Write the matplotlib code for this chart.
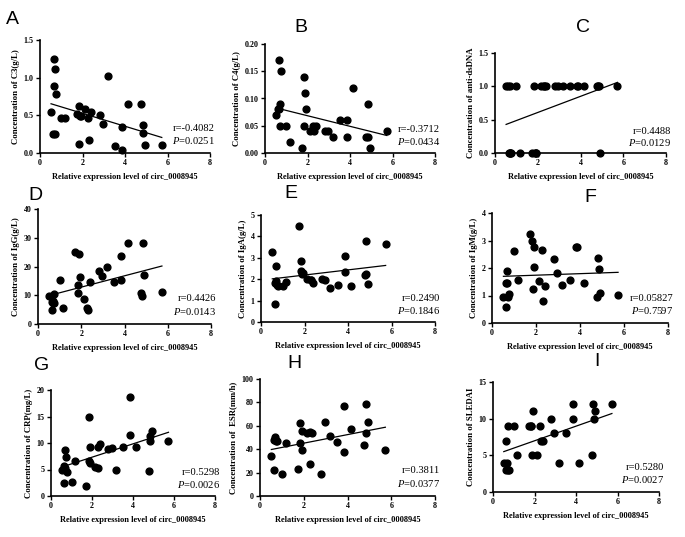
import numpy as np
import matplotlib
matplotlib.use("Agg")
import matplotlib.pyplot as plt

# wspolne x dla wszystkich paneli (ta sama grupa pacjentow)
circ = [0.52, 0.63, 0.65, 0.68, 0.70, 0.72, 0.76, 1.00, 1.17, 1.73,
        1.83, 1.85, 1.90, 1.92, 2.13, 2.28, 2.30, 2.39, 2.80, 2.96,
        3.18, 3.53, 3.84, 3.86, 4.16, 4.76, 4.83, 4.85, 4.92, 5.73]

c3 = [0.54, 0.25, 1.25, 0.89, 0.25, 1.12, 0.78, 0.47, 0.47, 0.52,
      0.12, 0.62, 0.49, 0.49, 0.59, 0.46, 0.17, 0.55, 0.51, 0.38,
      1.02, 0.09, 0.35, 0.035, 0.65, 0.65, 0.37, 0.26, 0.10, 0.10]
c4 = [0.07, 0.08, 0.17, 0.08, 0.05, 0.09, 0.15, 0.05, 0.02, 0.01,
      0.14, 0.05, 0.11, 0.08, 0.04, 0.05, 0.04, 0.05, 0.04, 0.04,
      0.03, 0.06, 0.06, 0.03, 0.12, 0.03, 0.09, 0.03, 0.01, 0.04]
dsdna = [1, 1, 0, 1, 0, 0, 0, 1, 0, 0,
         1, 0, 0, 0, 1, 1, 1, 1, 1, 1,
         1, 1, 1, 1, 1, 1, 1, 1, 0, 1]
igg = [9.8, 7.8, 4.8, 7.3, 8.0, 10.6, 7.2, 15.2, 5.6, 25.0,
       13.7, 10.7, 24.4, 16.3, 8.8, 5.5, 4.8, 14.5, 18.3, 16.6,
       19.7, 14.7, 23.5, 15.2, 28.3, 10.7, 9.8, 28.3, 17.1, 11.2]
iga = [3.25, 1.82, 0.84, 1.93, 2.64, 1.75, 1.70, 1.70, 1.88, 4.47,
       2.84, 2.38, 2.25, 2.30, 2.00, 1.98, 1.96, 1.83, 2.00, 1.96,
       1.58, 1.75, 3.09, 2.34, 1.68, 2.20, 3.79, 2.22, 1.79, 3.66]
igm = [0.94, 1.47, 0.59, 1.45, 1.90, 0.96, 1.04, 2.61, 1.58, 3.22,
       3.00, 1.23, 2.76, 2.05, 1.51, 2.66, 0.81, 1.34, 2.34, 1.83,
       1.37, 1.55, 2.77, 2.75, 1.46, 0.93, 2.37, 1.95, 1.10, 1.02]
crp = [5.0, 5.7, 2.5, 8.6, 5.3, 7.4, 4.5, 2.6, 6.6, 1.8,
       15.0, 6.6, 9.2, 6.3, 5.5, 9.3, 5.3, 9.9, 8.9, 9.1,
       4.9, 9.3, 18.7, 11.6, 9.3, 4.7, 11.4, 10.3, 12.3, 10.4]
esr = [34, 47.7, 22, 50.6, 49, 47, 46.9, 18.9, 44.9, 22.9,
       62, 44.9, 55.7, 39.7, 54, 54.9, 27.7, 54, 18.9, 62.9,
       51.7, 46, 77.1, 38, 56.9, 44, 78.9, 54, 62.9, 39.7]
sledai = [4, 3, 7, 4, 9, 3, 3, 9, 5, 9,
          9, 9, 5, 11, 5, 9, 7, 7, 10, 8,
          4, 8, 12, 10, 4, 5, 12, 10, 11, 12]

letters = ["A", "B", "C", "D", "E", "F", "G", "H", "I"]
ylabels = ["Concentration of C3(g/L)", "Concentration of C4(g/L)",
           "Concentration of anti-dsDNA", "Concentration of IgG(g/L)",
           "Concentration of IgA(g/L)", "Concentration of IgM(g/L)",
           "Concentration of CRP(mg/L)", "Concentration of  ESR(mm/h)",
           "Concentration of SLEDAI"]
r_vals = ["-0.4082", "-0.3712", "0.4488", "0.4426", "0.2490",
          "0.05827", "0.5298", "0.3811", "0.5280"]
p_vals = ["0.0251", "0.0434", "0.0129", "0.0143", "0.1846",
          "0.7597", "0.0026", "0.0377", "0.0027"]
series = [c3, c4, dsdna, igg, iga, igm, crp, esr, sledai]
ymax = [1.5, 0.20, 1.5, 40, 5, 4, 20, 100, 15]
ystep = [0.5, 0.05, 0.5, 10, 1, 1, 5, 20, 5]
yfmt = ["%.1f", "%.2f", "%.1f", "%d", "%d", "%d", "%d", "%d", "%d"]

# polozenie osi w pikselach: lewa, prawa, gora, dol
boxes = [(40, 210, 40, 153), (265, 435, 44, 153), (495, 666, 53, 153),
         (38, 211, 209, 324), (261, 435, 215, 322), (492, 668, 213, 323),
         (51, 215, 390, 496), (260, 435, 379, 496), (493, 659, 382, 492)]
letter_pos = [(12, 20), (301, 27), (583, 28), (35, 195), (291, 194),
              (590, 197), (42, 365), (294, 364), (597, 362)]

serif = "Liberation Serif"
plt.rcParams["mathtext.fontset"] = "custom"
plt.rcParams["mathtext.it"] = "Liberation Serif:italic"
plt.rcParams["mathtext.rm"] = "Liberation Serif"

W, H = 685, 537
fig = plt.figure(figsize=(6.85, 5.37), dpi=100)
x = np.array(circ)

for i in range(9):
    L, R, T, B = boxes[i]
    ax = fig.add_axes([L / W, 1 - B / H, (R - L) / W, (B - T) / H])
    y = np.array(series[i], dtype=float)
    ax.scatter(x, y, s=24, color="black", zorder=3, clip_on=False)
    a, b = np.polyfit(x, y, 1)
    xx = np.array([x.min(), x.max()])
    ax.plot(xx, a * xx + b, color="black", lw=0.9)

    ax.set_xlim(0, 8)
    ax.set_ylim(0, ymax[i])
    ax.set_xticks([0, 2, 4, 6, 8])
    yt = np.arange(0, ymax[i] + ystep[i] / 2, ystep[i])
    ax.set_yticks(yt)
    ax.set_yticklabels([yfmt[i] % v for v in yt])
    for s in ["top", "right"]:
        ax.spines[s].set_visible(False)
    for s in ["left", "bottom"]:
        ax.spines[s].set_linewidth(1.2)
    ax.tick_params(direction="out", length=3, width=1, pad=1.5,
                   labelsize=5.8)
    for lab in ax.get_xticklabels() + ax.get_yticklabels():
        lab.set_fontfamily(serif)
        lab.set_fontweight("bold")
    ax.set_xlabel("Relative expression level of circ_0008945",
                  fontsize=6.0, fontweight="bold", family=serif, labelpad=4)
    ax.set_ylabel(ylabels[i], fontsize=6.3, fontweight="bold",
                  family=serif, labelpad=3)
    ax.text(1.03, 0.22, "r=" + r_vals[i], transform=ax.transAxes,
            ha="right", va="center", fontsize=7.6, family=serif)
    ax.text(1.03, 0.11, "$P$=" + p_vals[i], transform=ax.transAxes,
            ha="right", va="center", fontsize=7.6, family=serif)

    lx, ly = letter_pos[i]
    fig.text(lx / W, 1 - ly / H, letters[i], fontsize=14,
             family="Liberation Sans", ha="center", va="center")

plt.savefig("out.png", dpi=100)
